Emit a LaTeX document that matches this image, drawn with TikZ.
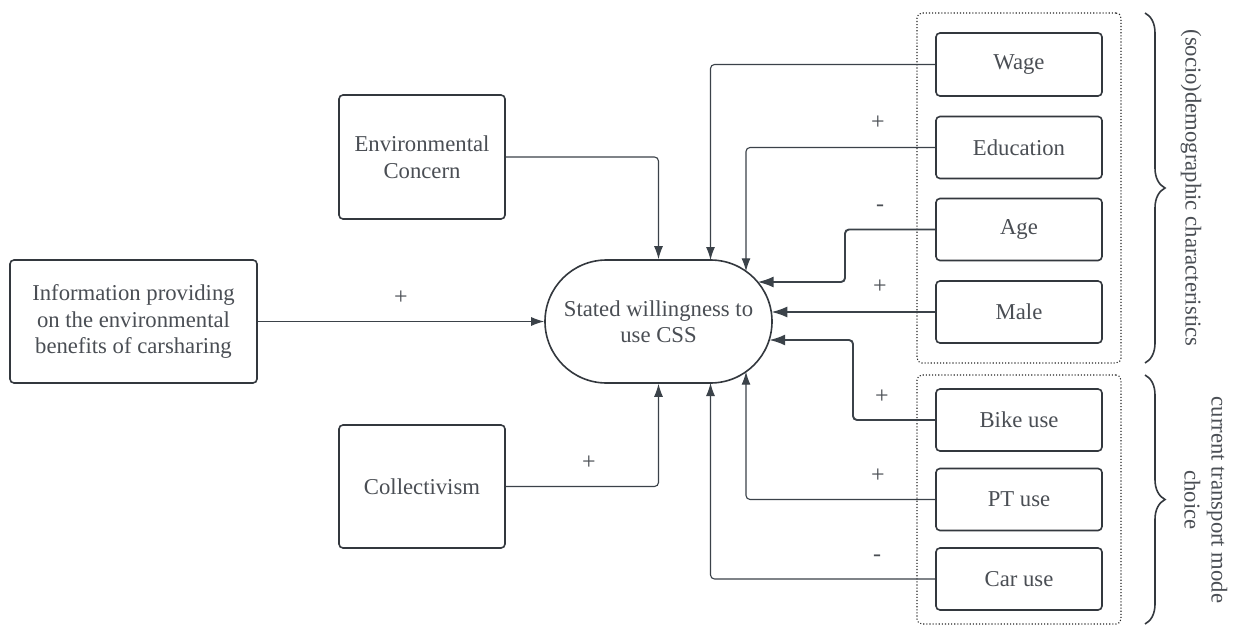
\documentclass[tikz,border=0pt]{standalone}
\usepackage{fontspec}
\setmainfont{Liberation Serif}
\usetikzlibrary{arrows.meta,decorations.pathreplacing}
\definecolor{txt}{HTML}{4A4E54}
\definecolor{ln}{HTML}{3B4249}
\definecolor{bx}{HTML}{33383E}
\begin{document}
\begin{tikzpicture}[x=1pt,y=-1pt,
  box/.style={draw=bx, line width=1.6pt, rounded corners=4pt, align=center, text=txt,
              font=\fontsize{22.7}{26.5}\selectfont, inner sep=0pt},
  conn/.style={draw=ln, line width=1.1pt, rounded corners=4pt, -{Latex[length=13pt,width=9pt]}},
  heavy/.style={draw=ln, line width=1.9pt, rounded corners=4pt, -{Latex[length=16pt,width=11pt]}},
  lbl/.style={text=txt, font=\fontsize{24}{26}\selectfont, inner sep=0pt},
  group/.style={draw=black!85, line width=1.1pt, dotted, rounded corners=5pt},
  bracestyle/.style={draw=bx, line width=1.6pt, decorate, decoration={brace, amplitude=20pt}},
  side/.style={text=txt, font=\fontsize{22.7}{27}\selectfont, align=center, rotate=-90, inner sep=0pt}
]
\useasboundingbox[fill=white] (0,0) rectangle (1240,626);

% left side nodes
\node[box, minimum width=247pt, minimum height=123pt] (info) at (133.5,321.5)
  {Information providing\\on the environmental\\benefits of carsharing};
\node[box, minimum width=166pt, minimum height=124pt] (ec) at (422,157) {Environmental\\Concern};
\node[box, minimum width=166pt, minimum height=123pt] (coll) at (422,486.5) {Collectivism};

% central node
\node[box, rounded corners=61.5pt, minimum width=227pt, minimum height=123pt] (css) at (658.5,321.5)
  {Stated willingness to\\use CSS};

% group frames
\node[group, minimum width=204pt, minimum height=350pt] (grp1) at (1019,188) {};
\node[group, minimum width=204pt, minimum height=249pt] (grp2) at (1019,499.5) {};

% right side nodes
\node[box, minimum width=166pt, minimum height=63pt] (wage) at (1019,64.5) {Wage};
\node[box, minimum width=166pt, minimum height=62pt] (edu) at (1019,147.5) {Education};
\node[box, minimum width=166pt, minimum height=62pt] (age) at (1019,229.5) {Age};
\node[box, minimum width=166pt, minimum height=62pt] (male) at (1019,312) {Male};
\node[box, minimum width=166pt, minimum height=62pt] (bike) at (1019,420) {Bike use};
\node[box, minimum width=166pt, minimum height=62pt] (pt) at (1019,499.5) {PT use};
\node[box, minimum width=166pt, minimum height=62pt] (car) at (1019,579) {Car use};

% braces and side labels
\coordinate (b1top) at (1145,13);
\coordinate (b1bot) at (1145,363);
\coordinate (b2top) at (1145,375);
\coordinate (b2bot) at (1145,624);
\draw[bracestyle] (b1top) -- (b1bot);
\draw[bracestyle] (b2top) -- (b2bot);
\node[side] (sidea) at (1191,188) {(socio)demographic characteristics};
\node[side] (sideb) at (1206,500) {current transport mode\\choice};

% end points on the central node
\coordinate (wageend) at (710.5,260);
\coordinate (eduend) at (746,271.3);
\coordinate (ageend) at (757.6,282);
\coordinate (maleend) at (771.3,312);
\coordinate (bikeend) at (769.2,340);
\coordinate (ptend) at (746,371.7);
\coordinate (carend) at (710.5,383);

% connectors
\draw[conn] (info.east) -- (css.west);
\draw[conn] (ec.east) -| (css.north);
\draw[conn] (coll.east) -| (css.south);
\draw[conn] (wage.west) -| (wageend);
\draw[conn] (edu.west) -| (eduend);
\draw[heavy] (age.west) -| ([xshift=87.4pt]ageend) -- (ageend);
\draw[heavy] (male.west) -- (maleend);
\draw[heavy] (bike.west) -| ([xshift=83.8pt]bikeend) -- (bikeend);
\draw[conn] (pt.west) -| (ptend);
\draw[conn] (car.west) -| (carend);

% signs
\node[lbl] (s1) at (401,298) {+};
\node[lbl] (s2) at (589,463) {+};
\node[lbl] (s3) at (878,123) {+};
\node[lbl] (s4) at (880,208) {-};
\node[lbl] (s5) at (880,287) {+};
\node[lbl] (s6) at (882,397) {+};
\node[lbl] (s7) at (878,476) {+};
\node[lbl] (s8) at (877,558) {-};
\end{tikzpicture}
\end{document}
